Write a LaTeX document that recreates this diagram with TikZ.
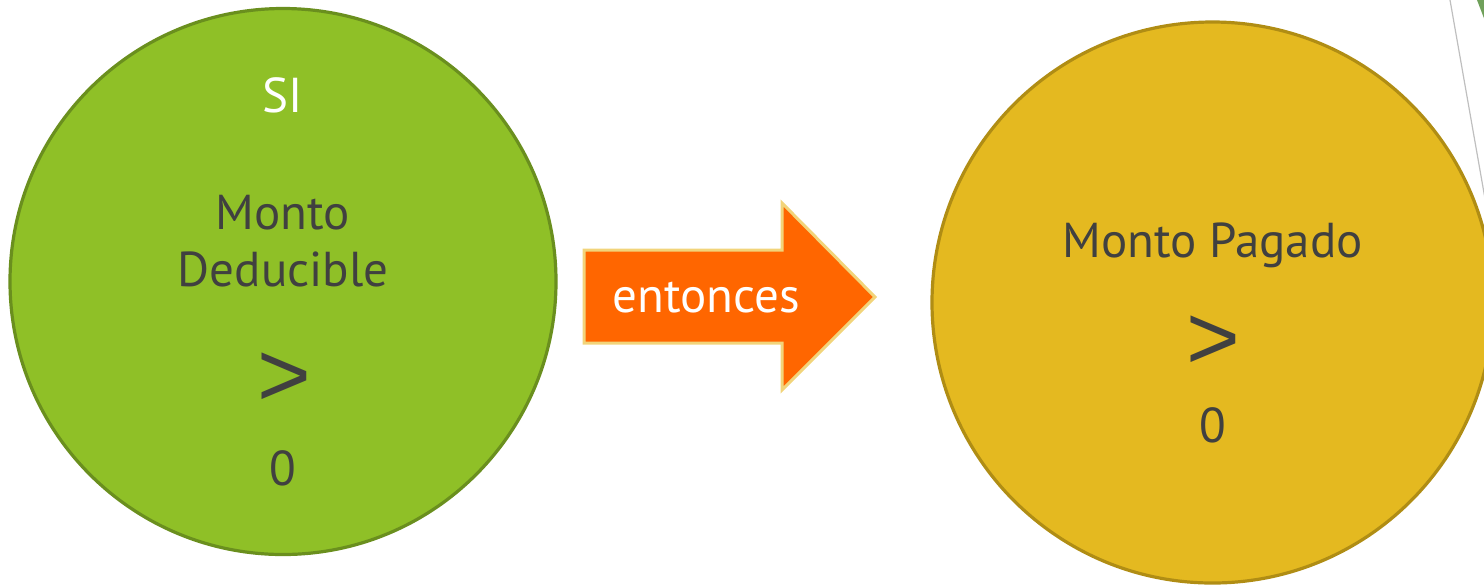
\documentclass[tikz,border=0pt]{standalone}
\usepackage{fontspec}
\setmainfont{PT Sans}
\newfontfamily\signofont{Liberation Sans}
\usetikzlibrary{positioning}

\definecolor{verde}{RGB}{143,192,39}
\definecolor{verdeborde}{RGB}{106,143,30}
\definecolor{amarillo}{RGB}{228,185,32}
\definecolor{amarilloborde}{RGB}{176,141,20}
\definecolor{naranja}{RGB}{255,102,0}
\definecolor{naranjaborde}{RGB}{242,212,122}
\definecolor{texto}{RGB}{64,64,64}
\definecolor{verdeotro}{RGB}{111,160,90}

\tikzset{
  bola/.style={circle, line width=1.6pt, inner sep=0pt},
  etiqueta/.style={text=texto, font=\fontsize{24.5}{28}\selectfont, anchor=base, inner sep=0pt},
  mayor/.style={text=texto, font=\signofont\fontsize{46}{46}\selectfont, inner sep=0pt},
}

\begin{document}
\begin{tikzpicture}[x=0.5pt,y=-0.5pt]
\useasboundingbox (0,0) rectangle (1484,586);
\clip (0,0) rectangle (1484,586);

% circles
\node[bola, fill=verde, draw=verdeborde, minimum size=273pt] (si) at (283,281.5) {};
\node[bola, fill=amarillo, draw=amarilloborde, minimum size=280.5pt] (pagado) at (1212.5,302.5) {};

% left circle texts
\node[etiqueta, text=white] (siT) at (283,112.6) {SI};
\node[etiqueta] (montoA) at (283,229) {Monto};
\node[etiqueta] (deducible) at (283,286) {Deducible};
\node[mayor] (mayorA) at (284,380) {>};
\node[etiqueta] (ceroA) at (283,485) {0};

% right circle texts
\node[etiqueta] (montoB) at (1212.5,257) {Monto Pagado};
\node[mayor] (mayorB) at (1213.5,343) {>};
\node[etiqueta] (ceroB) at (1212.5,442.5) {0};

% arrow
\draw[fill=naranja, draw=naranjaborde, line width=1.5pt, line join=miter]
  (584,250) -- (782,250) -- (782,203) -- (875,297) -- (782,390) -- (782,343) -- (584,343) -- cycle;
\node[etiqueta, text=white] (entonces) at (706,312) {entonces};

% edge of next shape
\fill[verdeotro] (1477,0) -- (1490,0) -- (1490,34) -- cycle;
\draw[black!25, line width=0.6pt] (1450,0) -- (1487,210);

\end{tikzpicture}
\end{document}
